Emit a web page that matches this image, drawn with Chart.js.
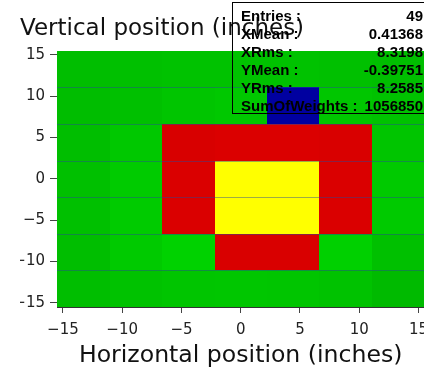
<!DOCTYPE html>
<html lang="en">
<head>
<meta charset="UTF-8">
<title>Position histogram</title>
<script src="https://cdn.jsdelivr.net/npm/chart.js"></script>
<style>
  html, body { margin: 0; padding: 0; background: #fff; overflow: hidden; }
</style>
</head>
<body>
<canvas id="hist" width="436" height="370"></canvas>
<script>
// bin edges (inches), same binning on both axes
const binEdgesX = [-15.5, -11.07, -6.64, -2.21, 2.21, 6.64, 11.07, 15.5];
const binEdgesY = [-15.5, -11.07, -6.64, -2.21, 2.21, 6.64, 11.07, 15.5];
// bin weights, top row first (y = +15.5 down to -15.5), left to right
const weights = [
  [12000, 12500, 13000, 13000, 13000, 12500, 12000],
  [11500, 12500, 14000, 15000, 98000, 14500, 13000],
  [12000, 15000, 29000, 34000, 34000, 31000, 14000],
  [12500, 16000, 33000, 70000, 70000, 33000, 15500],
  [12500, 16000, 33000, 70000, 70000, 33000, 15500],
  [12000, 15500, 18000, 31000, 30000, 17500, 12500],
  [12000, 13000, 14000, 14500, 14000, 13000, 10500]
];
const xTicks = [-15, -10, -5, 0, 5, 10, 15];
const yTicks = [-15, -10, -5, 0, 5, 10, 15];
const statNames = ['Entries :', 'XMean :', 'XRms :', 'YMean :', 'YRms :', 'SumOfWeights :'];
const statValues = ['49', '0.41368', '8.3198', '-0.39751', '8.2585', '1056850'];

function binColor(w) {
  if (w > 90000) return '#0000a0';
  if (w > 50000) return '#ffff00';
  if (w > 25000) {
    const t = (w - 25000) / 25000;
    return 'rgb(' + Math.round(214 + t * 14) + ',0,0)';
  }
  const t = Math.min(1, Math.max(0, (w - 10000) / 10000));
  return 'rgb(0,' + Math.round(184 + t * 32) + ',0)';
}

const fmt = v => (v < 0 ? '\u2212' + Math.abs(v) : String(v));

const binsPlugin = {
  id: 'bins',
  beforeDatasetsDraw(chart) {
    const { ctx, chartArea, scales: { x, y } } = chart;
    const n = binEdgesY.length;
    ctx.save();
    ctx.beginPath();
    ctx.rect(chartArea.left, chartArea.top, chartArea.width, chartArea.height);
    ctx.clip();
    weights.forEach((row, r) => {
      const y0 = Math.round(y.getPixelForValue(binEdgesY[n - 1 - r]));
      const y1 = Math.round(y.getPixelForValue(binEdgesY[n - 2 - r]));
      row.forEach((w, c) => {
        const x0 = Math.round(x.getPixelForValue(binEdgesX[c]));
        const x1 = Math.round(x.getPixelForValue(binEdgesX[c + 1]));
        ctx.fillStyle = binColor(w);
        ctx.fillRect(x0, y0, x1 - x0, y1 - y0);
      });
    });
    // row boundaries
    ctx.strokeStyle = 'rgba(40,70,150,0.45)';
    ctx.lineWidth = 1;
    binEdgesY.slice(1, -1).forEach(e => {
      const py = Math.round(y.getPixelForValue(e)) + 0.5;
      ctx.beginPath();
      ctx.moveTo(chartArea.left, py);
      ctx.lineTo(chartArea.right, py);
      ctx.stroke();
    });
    ctx.restore();
  }
};

const statsPlugin = {
  id: 'stats',
  afterDraw(chart) {
    const ctx = chart.ctx;
    ctx.save();
    ctx.strokeStyle = '#000';
    ctx.lineWidth = 1;
    ctx.strokeRect(232.5, 2.5, 240, 111);
    ctx.fillStyle = '#000';
    ctx.font = 'bold 15px "Liberation Sans"';
    ctx.textBaseline = 'alphabetic';
    statNames.forEach((name, i) => {
      const by = 21 + i * 18;
      ctx.textAlign = 'left';
      ctx.fillText(name, 241, by);
      ctx.textAlign = 'right';
      ctx.fillText(statValues[i], 423, by);
    });
    ctx.restore();
  }
};

const tickFont = { family: 'DejaVu Sans', size: 15 };

new Chart(document.getElementById('hist'), {
  type: 'scatter',
  data: { datasets: [{ data: [] }] },
  options: {
    responsive: false,
    animation: false,
    layout: { padding: { left: 20, top: 0, right: 0, bottom: 0 } },
    plugins: {
      legend: { display: false },
      tooltip: { enabled: false },
      title: {
        display: true,
        text: 'Vertical position (inches)',
        align: 'start',
        color: '#111',
        font: { family: 'DejaVu Sans', size: 23, weight: 'normal' },
        padding: { top: 15, bottom: 8 }
      }
    },
    scales: {
      x: {
        type: 'linear',
        min: -15.5,
        max: 15.5,
        afterBuildTicks: s => { s.ticks = xTicks.map(v => ({ value: v })); },
        afterFit: s => { s.height = 63; },
        ticks: { font: tickFont, color: '#222', padding: 8, maxRotation: 0, autoSkip: false, callback: fmt },
        grid: { drawOnChartArea: false, color: '#444', tickLength: 6 },
        border: { display: true, color: '#333' },
        title: {
          display: true,
          text: 'Horizontal position (inches)',
          color: '#111',
          font: { family: 'DejaVu Sans', size: 23.6 },
          padding: { top: 4, bottom: 0 }
        }
      },
      y: {
        type: 'linear',
        min: -15.5,
        max: 15.5,
        afterBuildTicks: s => { s.ticks = yTicks.map(v => ({ value: v })); },
        afterFit: s => { s.width = 37; },
        ticks: { font: tickFont, color: '#222', padding: 5, autoSkip: false, callback: fmt },
        grid: { drawOnChartArea: false, color: '#444', tickLength: 7 },
        border: { display: false }
      }
    }
  },
  plugins: [binsPlugin, statsPlugin]
});
</script>
</body>
</html>
